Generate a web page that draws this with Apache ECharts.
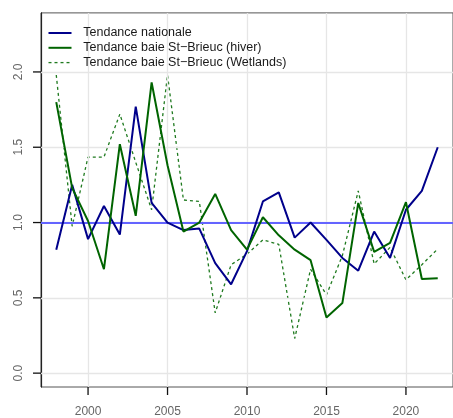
<!DOCTYPE html>
<html>
<head>
<meta charset="utf-8">
<script src="https://cdn.jsdelivr.net/npm/echarts@6/dist/echarts.min.js"></script>
<style>
html,body{margin:0;padding:0;background:#fff;}
#chart{width:453px;height:418px;}
</style>
</head>
<body>
<div id="chart"></div>
<script>
const years = [1998,1999,2000,2001,2002,2003,2004,2005,2006,2007,2008,2009,2010,2011,2012,2013,2014,2015,2016,2017,2018,2019,2020,2021,2022];
const nationale = [0.82,1.25,0.89,1.11,0.92,1.77,1.13,1.00,0.95,0.96,0.73,0.59,0.81,1.14,1.20,0.90,1.00,0.885,0.765,0.68,0.94,0.765,1.085,1.21,1.50];
const hiver = [1.80,1.23,1.01,0.69,1.52,1.045,1.93,1.38,0.94,1.00,1.19,0.95,0.82,1.035,0.915,0.82,0.75,0.37,0.465,1.13,0.805,0.865,1.135,0.625,0.63];
const wetlands = [1.98,0.975,1.435,1.435,1.72,1.40,1.085,1.98,1.15,1.14,0.40,0.72,0.79,0.885,0.855,0.23,0.69,0.52,0.78,1.21,0.725,0.835,0.62,0.72,0.825];
const seriesNames = ['Tendance nationale','Tendance baie St\u2212Brieuc (hiver)','Tendance baie St\u2212Brieuc (Wetlands)'];
const xTicks = [2000,2005,2010,2015,2020];
const yTicks = [0,0.5,1.0,1.5,2.0];
const refLevel = 1.0;

const colors = ['#00008B','#006400','#1f7a1f'];
const widths = [2,2,1.3];
const dashes = ['solid','solid',[3,3]];
const xMin = 1997.04, xMax = 2022.96, yMin = -0.092, yMax = 2.392;

const pairs = arr => years.map((y,i)=>[y,arr[i]]);
const chart = echarts.init(document.getElementById('chart'), null, {renderer:'canvas'});
const font = '"Liberation Sans", Arial, Helvetica, sans-serif';

const legendGraphics = [];
seriesNames.forEach((n,i)=>{
  const cy = 33 + i*14.8;
  legendGraphics.push({type:'line',shape:{x1:48.5,y1:cy,x2:71.5,y2:cy},
    style:{stroke:colors[i],lineWidth:widths[i],lineDash:i===2?[3,3]:null},silent:true,z:10});
  legendGraphics.push({type:'text',x:83.3,y:cy,
    style:{text:n,fontFamily:font,fontSize:12.5,fill:'#1a1a1a',textVerticalAlign:'middle',verticalAlign:'middle',align:'left'},silent:true,z:10});
});

chart.setOption({
  animation:false,
  backgroundColor:'#fff',
  grid:{left:41,top:12.9,right:-9,bottom:30.4,show:true,borderColor:'#555',borderWidth:1,backgroundColor:'transparent'},
  graphic:legendGraphics,
  xAxis:{
    type:'value',min:xMin,max:xMax,
    axisLine:{show:true,lineStyle:{color:'#222',width:1.2}},
    axisTick:{show:false},
    axisLabel:{customValues:xTicks,margin:19,fontFamily:font,fontSize:12,color:'#666',formatter:v=>String(v)},
    splitLine:{show:false}
  },
  yAxis:{
    type:'value',min:yMin,max:yMax,
    axisLine:{show:true,lineStyle:{color:'#222',width:1.2}},
    axisTick:{show:false},
    axisLabel:{customValues:yTicks,rotate:90,margin:16,fontFamily:font,fontSize:12,color:'#666',formatter:v=>v.toFixed(1)},
    splitLine:{show:false}
  },
  series:[
    {type:'line',name:'grid',data:[],z:1,silent:true,
     markLine:{silent:true,symbol:'none',label:{show:false},animation:false,
       lineStyle:{color:'#e6e6e6',width:1.3,type:'solid'},
       data:yTicks.map(v=>({yAxis:v})).concat(xTicks.map(v=>({xAxis:v})))}},
    {type:'line',name:'ref',data:[],z:2,silent:true,
     markLine:{silent:true,symbol:'none',label:{show:false},animation:false,
       lineStyle:{color:'#6464ff',width:2,type:'solid'},
       data:[{yAxis:refLevel}]}},
    {type:'line',name:seriesNames[0],data:pairs(nationale),symbol:'none',z:5,
     lineStyle:{color:colors[0],width:widths[0],type:dashes[0]}},
    {type:'line',name:seriesNames[1],data:pairs(hiver),symbol:'none',z:5,
     lineStyle:{color:colors[1],width:widths[1],type:dashes[1]}},
    {type:'line',name:seriesNames[2],data:pairs(wetlands),symbol:'none',z:4,
     lineStyle:{color:colors[2],width:widths[2],type:dashes[2]}}
  ]
});

// axis ticks placed through the library's own scales
const axisBottom = chart.convertToPixel({yAxisIndex:0}, yMin);
const axisLeft = chart.convertToPixel({xAxisIndex:0}, xMin);
const tickGraphics = [];
xTicks.forEach(v=>{
  const px = chart.convertToPixel({xAxisIndex:0}, v);
  tickGraphics.push({type:'line',shape:{x1:px,y1:axisBottom,x2:px,y2:axisBottom+8},style:{stroke:'#111',lineWidth:1.3},silent:true,z:10});
});
yTicks.forEach(v=>{
  const py = chart.convertToPixel({yAxisIndex:0}, v);
  tickGraphics.push({type:'line',shape:{x1:axisLeft-8,y1:py,x2:axisLeft,y2:py},style:{stroke:'#111',lineWidth:1.3},silent:true,z:10});
});
chart.setOption({graphic:legendGraphics.concat(tickGraphics)});
</script>
</body>
</html>
